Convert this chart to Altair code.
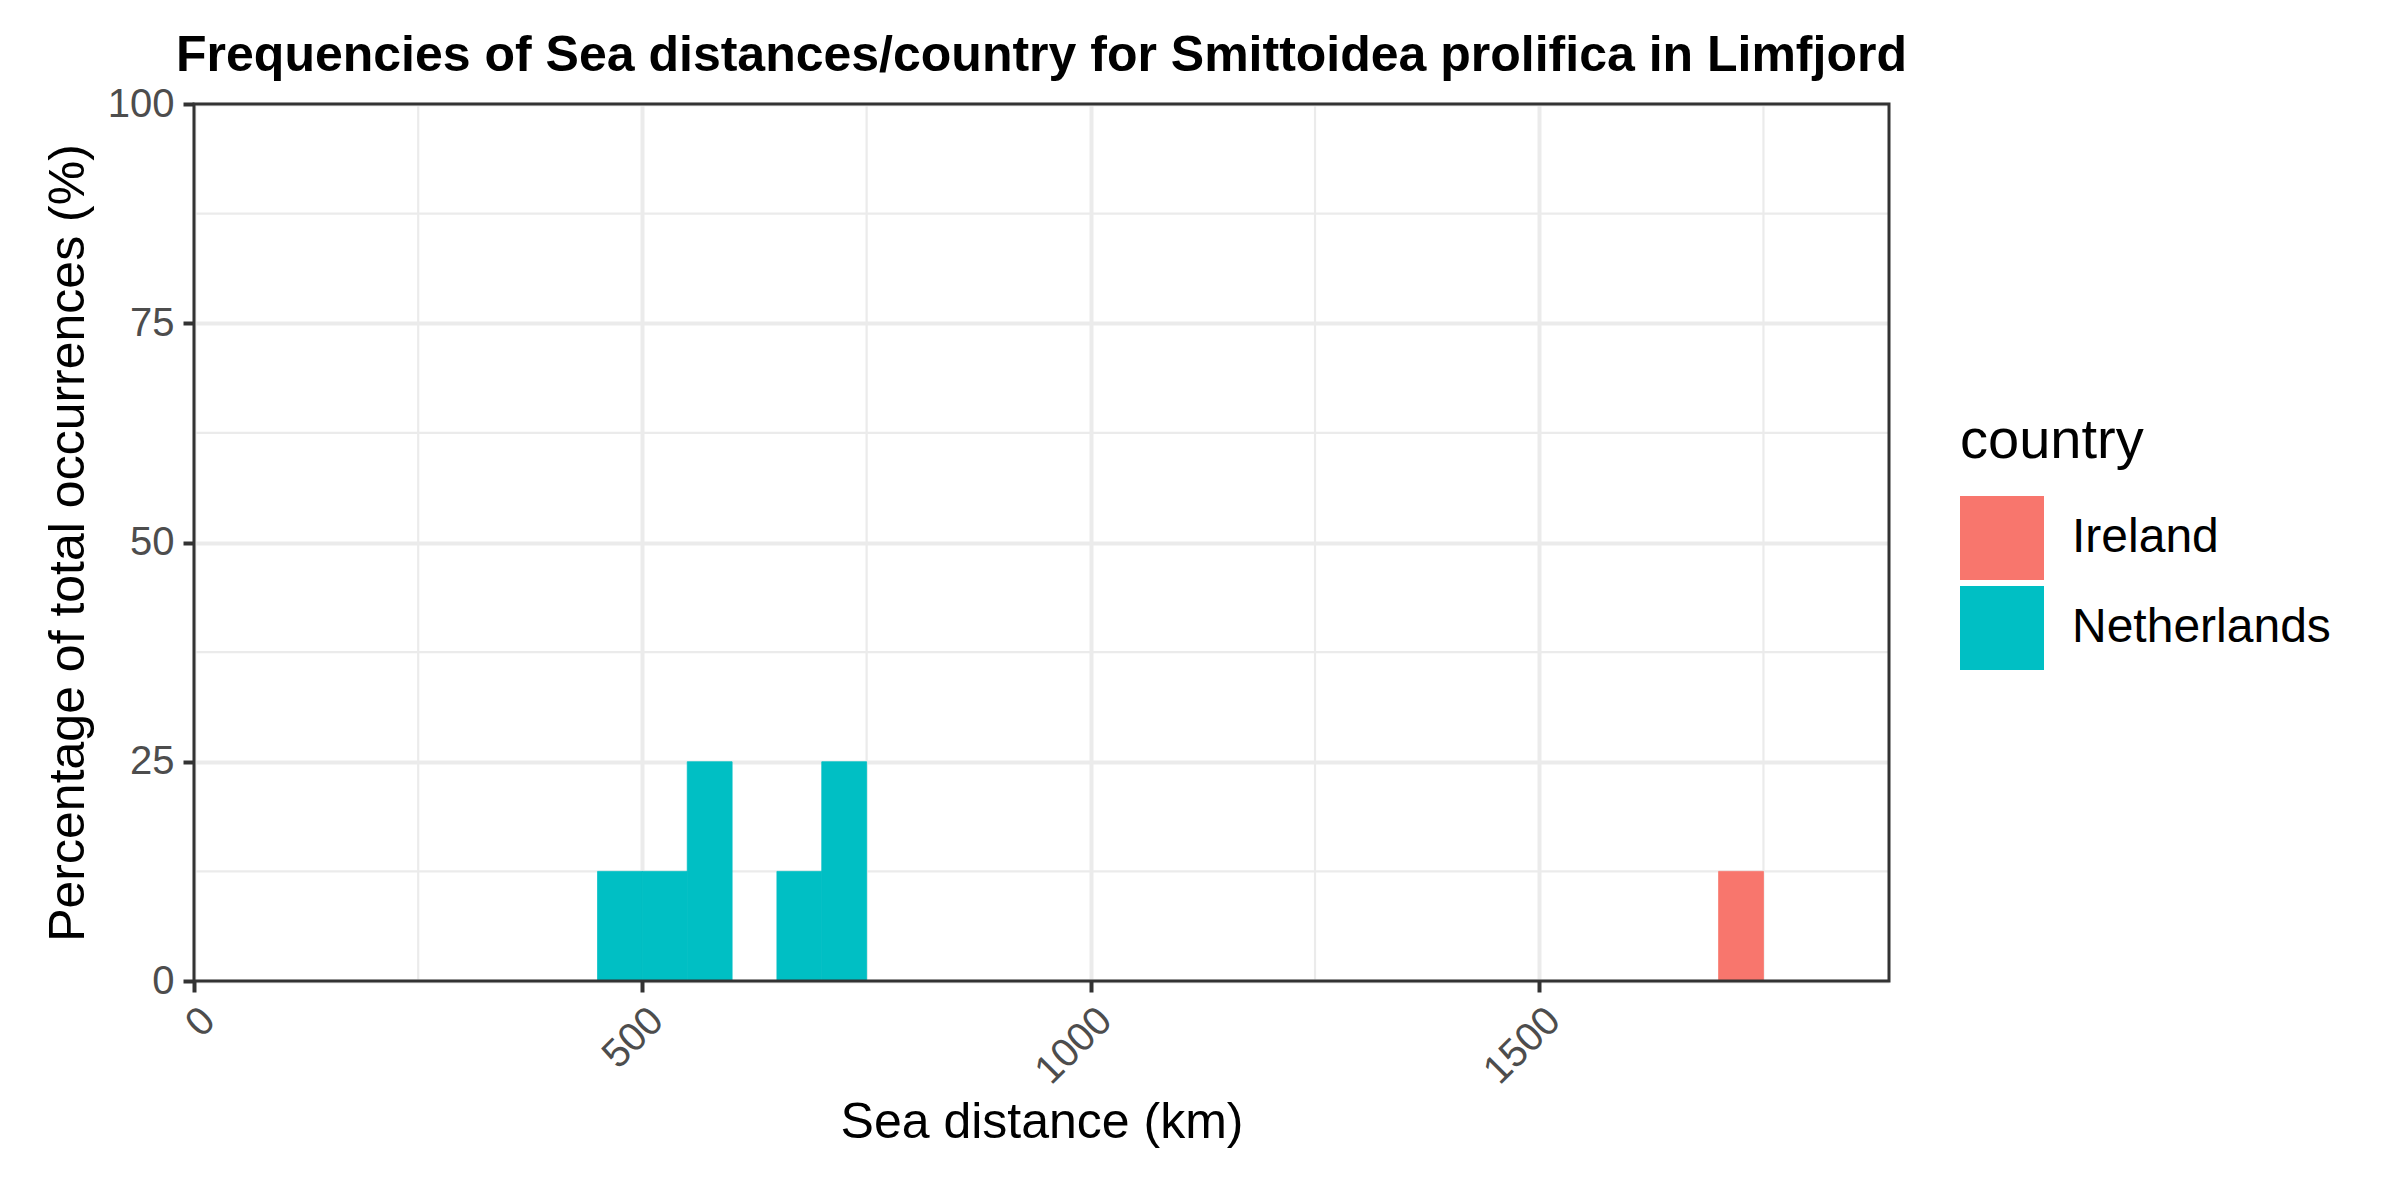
import altair as alt
import pandas as pd

# Histogram bins (km) and percentages
bin_start = [450, 500, 550, 650, 700, 1700]
bin_end = [500, 550, 600, 700, 750, 1750]
percent = [12.5, 12.5, 25.0, 12.5, 25.0, 12.5]
country = ["Netherlands", "Netherlands", "Netherlands", "Netherlands", "Netherlands", "Ireland"]

countries = ["Ireland", "Netherlands"]
colors = ["#F8766D", "#00BFC4"]

x_ticks = [0, 500, 1000, 1500]
y_ticks = [0, 25, 50, 75, 100]
x_minor = [250, 750, 1250, 1750]
y_minor = [12.5, 37.5, 62.5, 87.5]

X_DOMAIN = [0, 1890]
Y_DOMAIN = [0, 100]
FONT = "Liberation Sans"
W, H = 1695, 877

bars_df = pd.DataFrame({"start": bin_start, "end": bin_end, "pct": percent, "country": country})
xminor_df = pd.DataFrame({"v": x_minor})
yminor_df = pd.DataFrame({"v": y_minor})

xscale = alt.Scale(domain=X_DOMAIN, nice=False, zero=False)
yscale = alt.Scale(domain=Y_DOMAIN, nice=False)
cscale = alt.Scale(domain=countries, range=colors)

xminor = alt.Chart(xminor_df).mark_rule(color="#EBEBEB", strokeWidth=2.2).encode(
    x=alt.X("v:Q", scale=xscale)
)
yminor = alt.Chart(yminor_df).mark_rule(color="#EBEBEB", strokeWidth=2.2).encode(
    y=alt.Y("v:Q", scale=yscale)
)

bars = alt.Chart(bars_df).mark_rect(strokeWidth=0.8).encode(
    x=alt.X(
        "start:Q",
        scale=xscale,
        axis=alt.Axis(
            values=x_ticks,
            format="d",
            title="Sea distance (km)",
            labelAngle=315,
            labelAlign="right",
            labelBaseline="top",
            labelPadding=8,
            titlePadding=6,
        ),
    ),
    x2="end:Q",
    y=alt.Y(
        "pct:Q",
        scale=yscale,
        axis=alt.Axis(
            values=y_ticks,
            title="Percentage of total occurrences (%)",
            labelPadding=9,
            titlePadding=14,
        ),
    ),
    y2=alt.datum(0),
    stroke=alt.Stroke("country:N", scale=cscale, legend=None),
    color=alt.Color(
        "country:N",
        scale=cscale,
        legend=alt.Legend(
            title="country",
            orient="none",
            legendX=1766,
            legendY=310,
            symbolType="square",
            symbolSize=7056,
            symbolStrokeWidth=0,
            symbolOpacity=1,
            labelFontSize=48,
            titleFontSize=56,
            titleFontWeight="normal",
            labelOffset=28,
            rowPadding=6,
            titlePadding=26,
            labelLimit=600,
            titleLimit=600,
            labelColor="black",
            titleColor="black",
            labelFont=FONT,
            titleFont=FONT,
        ),
    ),
)

# panel border drawn on top of the grid and bars
frame = alt.Chart(pd.DataFrame({"k": [0]})).mark_rect(
    fill="transparent", stroke="#333333", strokeWidth=3
).encode(x=alt.value(0), x2=alt.value(W), y=alt.value(0), y2=alt.value(H))

chart = (
    alt.layer(xminor, yminor, bars, frame)
    .properties(
        width=W,
        height=H,
        autosize=alt.AutoSizeParams(type="none"),
        padding={"left": 194, "top": 104, "right": 511, "bottom": 219},
        title=alt.TitleParams(
            text="Frequencies of Sea distances/country for Smittoidea prolifica in Limfjord",
            fontSize=50,
            fontWeight="bold",
            font=FONT,
            color="black",
            anchor="middle",
            frame="group",
            offset=3,
        ),
    )
    .configure_view(stroke=None)
    .configure_axis(
        grid=True,
        gridColor="#EBEBEB",
        gridWidth=4,
        domain=False,
        tickColor="#333333",
        tickWidth=4,
        tickSize=11,
        labelFont=FONT,
        labelFontSize=40,
        labelColor="#4D4D4D",
        titleFont=FONT,
        titleFontSize=50,
        titleFontWeight="normal",
        titleColor="black",
    )
)

chart.save("out.html", embed_options={"renderer": "svg", "actions": False})
